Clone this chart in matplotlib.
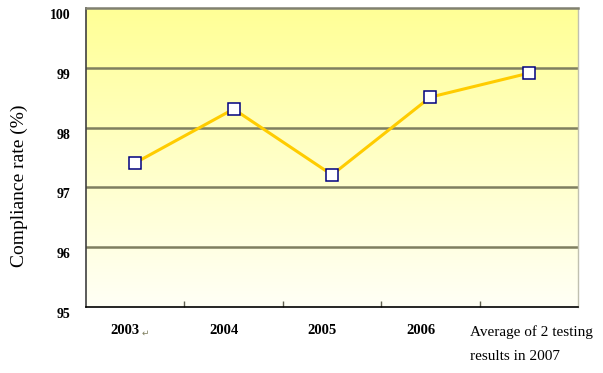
import matplotlib
matplotlib.use("Agg")
import matplotlib.pyplot as plt
import matplotlib.transforms as mtransforms
import numpy as np

# data
years = ["2003", "2004", "2005", "2006", "Average of 2 testing\nresults in 2007"]
rates = [97.41, 98.31, 97.21, 98.51, 98.91]
y_ticks = [95, 96, 97, 98, 99, 100]

fig = plt.figure(figsize=(6.03, 3.73), dpi=100)
W, H = 603, 373
ax = fig.add_axes([86 / W, 1 - 307 / H, (578 - 86) / W, (307 - 8) / H])

x = np.arange(len(years))
ax.set_xlim(-0.5, len(years) - 0.5)
ax.set_ylim(95, 100)

# yellow gradient background
grad = np.linspace(0, 1, 256).reshape(-1, 1)
top = np.array([255, 255, 150]) / 255
bot = np.array([255, 255, 246]) / 255
img = bot + (top - bot) * grad[:, :, None]
ax.imshow(img, extent=[-0.5, len(years) - 0.5, 95, 100], origin="lower",
          aspect="auto", zorder=0)

for yv in y_ticks[1:-1]:
    ax.axhline(yv, color="#7f7f60", lw=1.8, zorder=1)

ax.plot(x, rates, color="#FFCC00", lw=2.2, zorder=3)
ax.plot(x, rates, ls="none", marker="s", ms=8, mfc="white", mec="#000080",
        mew=1.1, zorder=4)

ax.spines["top"].set_color("#808070")
ax.spines["top"].set_linewidth(1.8)
ax.spines["right"].set_color("#c0c0b0")
ax.spines["right"].set_linewidth(1.0)
ax.spines["left"].set_color("#404040")
ax.spines["left"].set_linewidth(1.2)
ax.spines["bottom"].set_color("black")
ax.spines["bottom"].set_linewidth(1.2)

serif = "Liberation Serif"
ax.set_yticks(y_ticks)
ax.set_yticklabels([str(v) for v in y_ticks], fontfamily=serif,
                   fontweight="bold", fontsize=10)
ax.tick_params(axis="y", length=0, pad=11)
shift = mtransforms.ScaledTranslation(0, -6 / 100, fig.dpi_scale_trans)
for lbl in ax.get_yticklabels():
    lbl.set_transform(lbl.get_transform() + shift)

ax.set_xticks(np.arange(len(years) - 1) + 0.5)
ax.set_xticklabels([])
ax.tick_params(axis="x", direction="in", length=4, color="#606050", width=1)

for i, lab in enumerate(years[:-1]):
    ax.text(i - 0.1, 94.6, lab, ha="center", va="center", fontfamily=serif,
            fontweight="bold", fontsize=10.5, clip_on=False)
ax.text(-0.1 + 0.17, 94.57, "\u21b5", ha="left", va="center", fontsize=6.5,
        color="#808060", clip_on=False)
ax.text(3.4, 94.38, years[-1], ha="left",
        va="center", fontfamily=serif, fontsize=11, linespacing=2.1,
        clip_on=False)

fig.text(19 / W, 1 - 186 / H, "Compliance rate (%)", rotation=90,
         ha="center", va="center", fontfamily=serif, fontsize=14)

fig.savefig("out.png", dpi=100, facecolor="white")
